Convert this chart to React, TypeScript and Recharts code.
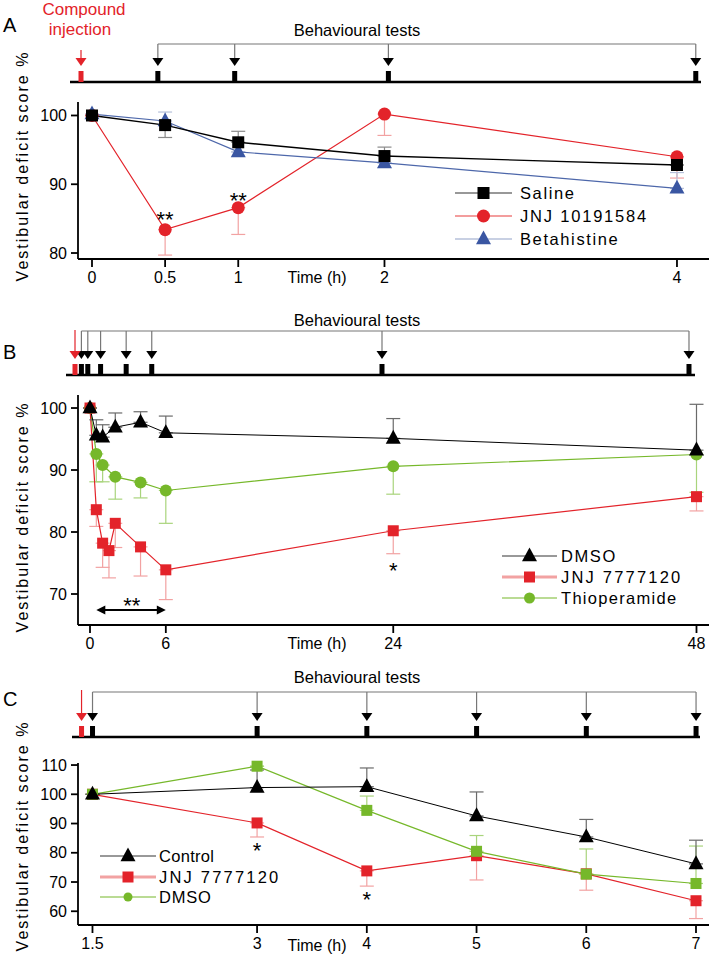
import React from 'react';
import {
  ComposedChart,
  ScatterChart,
  Scatter,
  Line,
  XAxis,
  YAxis,
  ErrorBar,
  ReferenceLine,
  Customized,
} from 'recharts';

const W = 709;
const H = 955;
const FONT = '"Liberation Sans", Arial, Helvetica, sans-serif';

const RED = '#e3232a';
const RED_LIGHT = '#f2a2a2';
const GREEN = '#76b82a';
const GREEN_LIGHT = '#a9d47c';
const BLUE = '#3a56a2';
const BLUE_LINE = '#4d67aa';
const BLUE_LIGHT = '#b6c0da';
const GREY = '#777777';
const BLACK = '#000000';

// ---------------- Panel A ----------------
const hoursA = [0, 0.5, 1, 2, 4];
const xTicksA = [0, 0.5, 1, 2, 4];
const yTicksA = [80, 90, 100];
const salineA = [100, 98.6, 96.1, 94.1, 92.8];
const salineLowA = [0, 1.8, 0, 0, 0];
const salineHighA = [0, 0, 1.6, 1.3, 0];
const jnj101A = [100, 83.4, 86.6, 100.2, 94.0];
const jnj101LowA = [0, 3.7, 3.9, 3.1, 3.1];
const betaA = [100.2, 99.2, 94.7, 93.1, 89.4];
const betaHighA = [0, 1.3, 0, 0, 2.3];
const starsA = [
  { t: 0.5, v: 85.5, text: '**' },
  { t: 1, v: 88.3, text: '**' },
];
const testsA = [0.5, 1, 2, 4];
const injectionA = [0];
const legendLabelsA = ['Saline', 'JNJ 10191584', 'Betahistine'];

// ---------------- Panel B ----------------
const xTicksB = [0, 6, 24, 48];
const yTicksB = [70, 80, 90, 100];
const hoursDmsoB = [0, 0.5, 1, 2, 4, 6, 24, 48];
const dmsoB = [100, 95.6, 95.3, 96.9, 97.7, 96.0, 95.1, 93.2];
const dmsoHighB = [0, 2.5, 2.0, 2.3, 1.7, 2.7, 3.2, 7.4];
const hoursJnjB = [0, 0.5, 1, 1.5, 2, 4, 6, 24, 48];
const jnjB = [100, 83.6, 78.2, 77.0, 81.4, 77.6, 73.9, 80.2, 85.7];
const jnjLowB = [0, 2.7, 3.9, 4.4, 3.9, 4.7, 4.8, 3.7, 2.3];
const hoursThioB = [0, 0.5, 1, 2, 4, 6, 24, 48];
const thioB = [100, 92.6, 90.8, 88.9, 88.0, 86.7, 90.6, 92.5];
const thioLowB = [0, 4.5, 2.7, 3.6, 2.5, 5.3, 4.5, 6.1];
const starsB = [
  { t: 24, v: 74.5, text: '*' },
  { t: 3.3, v: 68.9, text: '**' },
];
const sigRangeB = [0.5, 6];
const sigLevelB = 67.4;
const testsB = [0.5, 1, 2, 4, 6, 24, 48];
const injectionB = [0];
const legendLabelsB = ['DMSO', 'JNJ 7777120', 'Thioperamide'];

// ---------------- Panel C ----------------
const hoursC = [1.5, 3, 4, 5, 6, 7];
const xTicksC = [1.5, 3, 4, 5, 6, 7];
const yTicksC = [60, 70, 80, 90, 100, 110];
const controlC = [100, 102.3, 102.6, 92.6, 85.4, 76.2];
const controlHighC = [0, 6, 6.4, 8.2, 6.0, 8.1];
const jnjC = [100, 90.2, 73.8, 79.0, 72.8, 63.6];
const jnjLowC = [0, 4.8, 5.2, 8.3, 5.6, 6.1];
const dmsoC = [100, 109.6, 94.5, 80.5, 72.7, 69.5];
const dmsoHighC = [0, 0, 4.9, 5.4, 8.6, 12.8];
const starsC = [
  { t: 3, v: 82.2, text: '*' },
  { t: 4, v: 65.5, text: '*' },
];
const testsC = [1.5, 3, 4, 5, 6, 7];
const injectionC = [1.4];
const legendLabelsC = ['Control', 'JNJ 7777120', 'DMSO'];

// ---------------- helpers ----------------
type Pt = { t: number; v: number; e: [number, number] };

function makeSeries(hours: number[], values: number[], low?: number[], high?: number[]): Pt[] {
  return hours.map((t, i) => ({ t, v: values[i], e: [low ? low[i] : 0, high ? high[i] : 0] }));
}

function Marker({ cx, cy, kind, size, fill }: any) {
  if (kind === 'square')
    return <rect x={cx - size / 2} y={cy - size / 2} width={size} height={size} fill={fill} />;
  if (kind === 'circle') return <circle cx={cx} cy={cy} r={size / 2} fill={fill} />;
  const h = size * 0.92;
  return (
    <polygon
      points={`${cx},${cy - h * 0.62} ${cx - size / 2},${cy + h * 0.38} ${cx + size / 2},${cy + h * 0.38}`}
      fill={fill}
    />
  );
}

const dotRenderer = (kind: string, size: number, fill: string) => (p: any) => {
  if (p.cx == null || p.cy == null) return <g key={`n${p.index}`} />;
  return <Marker key={`d${p.index}`} cx={p.cx} cy={p.cy} kind={kind} size={size} fill={fill} />;
};

function seriesLine(
  id: string,
  data: Pt[],
  stroke: string,
  width: number,
  kind: string,
  size: number,
  fill: string,
  errStroke: string
) {
  return (
    <Line
      key={id}
      data={data}
      dataKey="v"
      stroke={stroke}
      strokeWidth={width}
      dot={dotRenderer(kind, size, fill)}
      activeDot={false}
      isAnimationActive={false}
      legendType="none"
    >
      <ErrorBar
        dataKey="e"
        direction="y"
        width={7}
        stroke={errStroke}
        strokeWidth={1.2}
        isAnimationActive={false}
      />
    </Line>
  );
}

const StarShape = (p: any) => (
  <text
    x={p.cx}
    y={p.cy}
    dy={12}
    textAnchor="middle"
    fontSize={22}
    fontFamily={FONT}
    fill={BLACK}
  >
    {p.payload.text}
  </text>
);

const tickStyle = { fill: BLACK, fontSize: 16, fontFamily: FONT };
const axisStyle = { stroke: BLACK, strokeWidth: 1.8 };

type LegendRow = {
  label: string;
  line: string;
  lineW: number;
  kind: string;
  size: number;
  fill: string;
  ls: number;
};

function LegendBlock({ x1, x2, tx, ys, rows }: { x1: number; x2: number; tx: number; ys: number[]; rows: LegendRow[] }) {
  const mx = (x1 + x2) / 2;
  return (
    <g>
      {rows.map((r, i) => (
        <g key={r.label}>
          <line x1={x1} y1={ys[i]} x2={x2} y2={ys[i]} stroke={r.line} strokeWidth={r.lineW} />
          <Marker cx={mx} cy={ys[i]} kind={r.kind} size={r.size} fill={r.fill} />
          <text
            x={tx}
            y={ys[i] + 6}
            fontSize={16.5}
            fontFamily={FONT}
            letterSpacing={r.ls}
            fill={BLACK}
          >
            {r.label}
          </text>
        </g>
      ))}
    </g>
  );
}

function YLabel({ cy }: { cy: number }) {
  return (
    <text
      x={22}
      y={cy}
      transform={`rotate(-90, 22, ${cy})`}
      textAnchor="middle"
      dominantBaseline="central"
      fontSize={16}
      letterSpacing={2}
      fontFamily={FONT}
      fill={BLACK}
    >
      Vestibular deficit score %
    </text>
  );
}

function TimeLabel({ y }: { y: number }) {
  return (
    <text x={317} y={y} textAnchor="middle" fontSize={16} fontFamily={FONT} fill={BLACK}>
      Time (h)
    </text>
  );
}

// ---------------- timeline ----------------
type TLcfg = {
  bracketY: number;
  axisY: number;
  left: number;
  right: number;
  domain: [number, number];
  tests: number[];
  injection: number[];
  redTop: number;
  letter: string;
  letterY: number;
  titleY: number;
  compound?: boolean;
};

function Timeline({ cfg }: { cfg: TLcfg }) {
  const gap = cfg.axisY - cfg.bracketY;
  const testPts = cfg.tests.map((x) => ({ x, y: 0 }));
  const injPts = cfg.injection.map((x) => ({ x, y: 0 }));
  const TestMark = (p: any) => (
    <g>
      <line x1={p.cx} y1={p.cy - gap} x2={p.cx} y2={p.cy - 24} stroke={GREY} strokeWidth={1.2} />
      <polygon points={`${p.cx - 5.5},${p.cy - 24} ${p.cx + 5.5},${p.cy - 24} ${p.cx},${p.cy - 16}`} fill={BLACK} />
      <rect x={p.cx - 2.5} y={p.cy - 11} width={5} height={11} fill={BLACK} />
    </g>
  );
  const InjMark = (p: any) => (
    <g>
      <line x1={p.cx} y1={p.cy - cfg.redTop} x2={p.cx} y2={p.cy - 24} stroke={RED} strokeWidth={1.2} />
      <polygon points={`${p.cx - 5.5},${p.cy - 24} ${p.cx + 5.5},${p.cy - 24} ${p.cx},${p.cy - 16}`} fill={RED} />
      <rect x={p.cx - 2.5} y={p.cy - 11} width={5} height={11} fill={RED} />
    </g>
  );
  return (
    <div style={{ position: 'absolute', left: 0, top: 0 }}>
      <ScatterChart
        width={W}
        height={H}
        margin={{ top: cfg.bracketY, bottom: H - cfg.axisY, left: cfg.left, right: W - cfg.right }}
      >
        <XAxis type="number" dataKey="x" domain={cfg.domain} hide height={0} />
        <YAxis type="number" dataKey="y" domain={[0, 1]} hide width={0} />
        <ReferenceLine y={0} stroke={BLACK} strokeWidth={2.5} />
        <ReferenceLine
          segment={[
            { x: cfg.tests[0], y: 1 },
            { x: cfg.tests[cfg.tests.length - 1], y: 1 },
          ]}
          stroke={GREY}
          strokeWidth={1.2}
        />
        <Scatter data={testPts} isAnimationActive={false} shape={TestMark} />
        <Scatter data={injPts} isAnimationActive={false} shape={InjMark} />
        <Customized
          component={() => (
            <g fontFamily={FONT}>
              <text x={3} y={cfg.letterY} fontSize={20} fill={BLACK}>
                {cfg.letter}
              </text>
              <text x={357} y={cfg.titleY} textAnchor="middle" fontSize={16.5} fill={BLACK}>
                Behavioural tests
              </text>
              {cfg.compound ? (
                <g>
                  <text x={84} y={15} textAnchor="middle" fontSize={17} fill={RED}>
                    Compound
                  </text>
                  <text x={80} y={35} textAnchor="middle" fontSize={17} fill={RED}>
                    injection
                  </text>
                </g>
              ) : null}
            </g>
          )}
        />
      </ScatterChart>
    </div>
  );
}

// ---------------- panels ----------------
function PanelA() {
  const top = 102;
  const bottom = 259;
  return (
    <div style={{ position: 'absolute', left: 0, top: 0 }}>
      <ComposedChart width={W} height={H} margin={{ top, left: 18, right: 0, bottom: H - bottom - 30 }}>
        <XAxis
          type="number"
          dataKey="t"
          domain={[-0.0957, 4.219]}
          ticks={xTicksA}
          interval={0}
          height={30}
          tickSize={8}
          tickMargin={5}
          tick={tickStyle}
          tickLine={axisStyle}
          axisLine={axisStyle}
        />
        <YAxis
          type="number"
          domain={[79.13, 101.96]}
          ticks={yTicksA}
          interval={0}
          width={60}
          tickSize={7}
          tickMargin={4}
          tick={tickStyle}
          tickLine={axisStyle}
          axisLine={axisStyle}
        />
        {seriesLine('jnjA', makeSeries(hoursA, jnj101A, jnj101LowA), RED, 1.2, 'circle', 13, RED, RED_LIGHT)}
        {seriesLine('betaA', makeSeries(hoursA, betaA, undefined, betaHighA), BLUE_LINE, 1.2, 'triangle', 15, BLUE, BLUE_LIGHT)}
        {seriesLine('salA', makeSeries(hoursA, salineA, salineLowA, salineHighA), BLACK, 1.4, 'square', 12, BLACK, '#8a8a8a')}
        <Scatter data={starsA} dataKey="v" shape={StarShape} isAnimationActive={false} />
        <Customized
          component={() => (
            <g>
              <YLabel cy={166} />
              <TimeLabel y={283} />
              <LegendBlock
                x1={455}
                x2={512}
                tx={520}
                ys={[193, 216, 239]}
                rows={[
                  { label: legendLabelsA[0], line: '#333', lineW: 1.2, kind: 'square', size: 12, fill: BLACK, ls: 1.6 },
                  { label: legendLabelsA[1], line: '#ef7d7d', lineW: 1.5, kind: 'circle', size: 13, fill: RED, ls: 1.8 },
                  { label: legendLabelsA[2], line: BLUE_LIGHT, lineW: 1.5, kind: 'triangle', size: 15, fill: BLUE, ls: 1.6 },
                ]}
              />
            </g>
          )}
        />
      </ComposedChart>
    </div>
  );
}

function PanelB() {
  const top = 395;
  const bottom = 625;
  return (
    <div style={{ position: 'absolute', left: 0, top: 0 }}>
      <ComposedChart width={W} height={H} margin={{ top, left: 18, right: 0, bottom: H - bottom - 30 }}>
        <XAxis
          type="number"
          dataKey="t"
          domain={[-0.95, 48.99]}
          ticks={xTicksB}
          interval={0}
          height={30}
          tickSize={8}
          tickMargin={5}
          tick={tickStyle}
          tickLine={axisStyle}
          axisLine={axisStyle}
        />
        <YAxis
          type="number"
          domain={[65.0, 102.1]}
          ticks={yTicksB}
          interval={0}
          width={60}
          tickSize={7}
          tickMargin={4}
          tick={tickStyle}
          tickLine={axisStyle}
          axisLine={axisStyle}
        />
        {seriesLine('thioB', makeSeries(hoursThioB, thioB, thioLowB), GREEN, 1.2, 'circle', 12, GREEN, GREEN_LIGHT)}
        {seriesLine('jnjB', makeSeries(hoursJnjB, jnjB, jnjLowB), RED, 1.2, 'square', 11, RED, RED_LIGHT)}
        {seriesLine('dmsoB', makeSeries(hoursDmsoB, dmsoB, undefined, dmsoHighB), BLACK, 1, 'triangle', 15, BLACK, '#6a6a6a')}
        <ReferenceLine
          segment={[
            { x: sigRangeB[0], y: sigLevelB },
            { x: sigRangeB[1], y: sigLevelB },
          ]}
          stroke={BLACK}
          shape={(p: any) => (
            <g>
              <line x1={p.x1 + 4} y1={p.y1} x2={p.x2 - 4} y2={p.y2} stroke={BLACK} strokeWidth={2} />
              <polygon points={`${p.x1},${p.y1} ${p.x1 + 9},${p.y1 - 4.5} ${p.x1 + 9},${p.y1 + 4.5}`} fill={BLACK} />
              <polygon points={`${p.x2},${p.y2} ${p.x2 - 9},${p.y2 - 4.5} ${p.x2 - 9},${p.y2 + 4.5}`} fill={BLACK} />
            </g>
          )}
        />
        <Scatter data={starsB} dataKey="v" shape={StarShape} isAnimationActive={false} />
        <Customized
          component={() => (
            <g>
              <YLabel cy={517} />
              <TimeLabel y={649} />
              <LegendBlock
                x1={502}
                x2={557}
                tx={561}
                ys={[556, 577, 598]}
                rows={[
                  { label: legendLabelsB[0], line: '#333', lineW: 1, kind: 'triangle', size: 15, fill: BLACK, ls: 1.6 },
                  { label: legendLabelsB[1], line: RED_LIGHT, lineW: 3, kind: 'square', size: 11, fill: RED, ls: 2.2 },
                  { label: legendLabelsB[2], line: GREEN, lineW: 1.2, kind: 'circle', size: 11, fill: GREEN, ls: 1.3 },
                ]}
              />
            </g>
          )}
        />
      </ComposedChart>
    </div>
  );
}

function PanelC() {
  const top = 763;
  const bottom = 925;
  return (
    <div style={{ position: 'absolute', left: 0, top: 0 }}>
      <ComposedChart width={W} height={H} margin={{ top, left: 18, right: 0, bottom: H - bottom - 30 }}>
        <XAxis
          type="number"
          dataKey="t"
          domain={[1.368, 7.1185]}
          ticks={xTicksC}
          interval={0}
          height={30}
          tickSize={8}
          tickMargin={5}
          tick={tickStyle}
          tickLine={axisStyle}
          axisLine={axisStyle}
        />
        <YAxis
          type="number"
          domain={[55.3, 110.7]}
          ticks={yTicksC}
          interval={0}
          width={60}
          tickSize={7}
          tickMargin={4}
          tick={tickStyle}
          tickLine={axisStyle}
          axisLine={axisStyle}
        />
        {seriesLine('jnjC', makeSeries(hoursC, jnjC, jnjLowC), RED, 1.2, 'square', 11, RED, RED_LIGHT)}
        {seriesLine('dmsoC', makeSeries(hoursC, dmsoC, undefined, dmsoHighC), GREEN, 1.2, 'square', 11, GREEN, GREEN_LIGHT)}
        {seriesLine('ctrlC', makeSeries(hoursC, controlC, undefined, controlHighC), BLACK, 1, 'triangle', 15, BLACK, '#6a6a6a')}
        <Scatter data={starsC} dataKey="v" shape={StarShape} isAnimationActive={false} />
        <Customized
          component={() => (
            <g>
              <YLabel cy={836} />
              <TimeLabel y={951} />
              <LegendBlock
                x1={100}
                x2={156}
                tx={159}
                ys={[856, 877, 897]}
                rows={[
                  { label: legendLabelsC[0], line: '#333', lineW: 1, kind: 'triangle', size: 15, fill: BLACK, ls: 0.3 },
                  { label: legendLabelsC[1], line: RED_LIGHT, lineW: 3, kind: 'square', size: 11, fill: RED, ls: 2.2 },
                  { label: legendLabelsC[2], line: GREEN, lineW: 1.2, kind: 'circle', size: 9, fill: GREEN, ls: 0.8 },
                ]}
              />
            </g>
          )}
        />
      </ComposedChart>
    </div>
  );
}

const timelineA: TLcfg = {
  bracketY: 44,
  axisY: 82,
  left: 70,
  right: 701,
  domain: [-0.0716, 4.034],
  tests: testsA,
  injection: injectionA,
  redTop: 32,
  letter: 'A',
  letterY: 32,
  titleY: 36,
  compound: true,
};
const timelineB: TLcfg = {
  bracketY: 331,
  axisY: 375,
  left: 66,
  right: 695,
  domain: [-0.704, 48.47],
  tests: testsB,
  injection: injectionB,
  redTop: 45,
  letter: 'B',
  letterY: 359,
  titleY: 326,
};
const timelineC: TLcfg = {
  bracketY: 692,
  axisY: 737,
  left: 72,
  right: 700,
  domain: [1.313, 7.036],
  tests: testsC,
  injection: injectionC,
  redTop: 47,
  letter: 'C',
  letterY: 706,
  titleY: 683,
};

export default function App() {
  return (
    <div
      style={{
        position: 'absolute',
        left: 0,
        top: 0,
        width: W,
        height: H,
        background: '#ffffff',
        fontFamily: FONT,
        overflow: 'hidden',
      }}
    >
      <Timeline cfg={timelineA} />
      <Timeline cfg={timelineB} />
      <Timeline cfg={timelineC} />
      <PanelA />
      <PanelB />
      <PanelC />
    </div>
  );
}
